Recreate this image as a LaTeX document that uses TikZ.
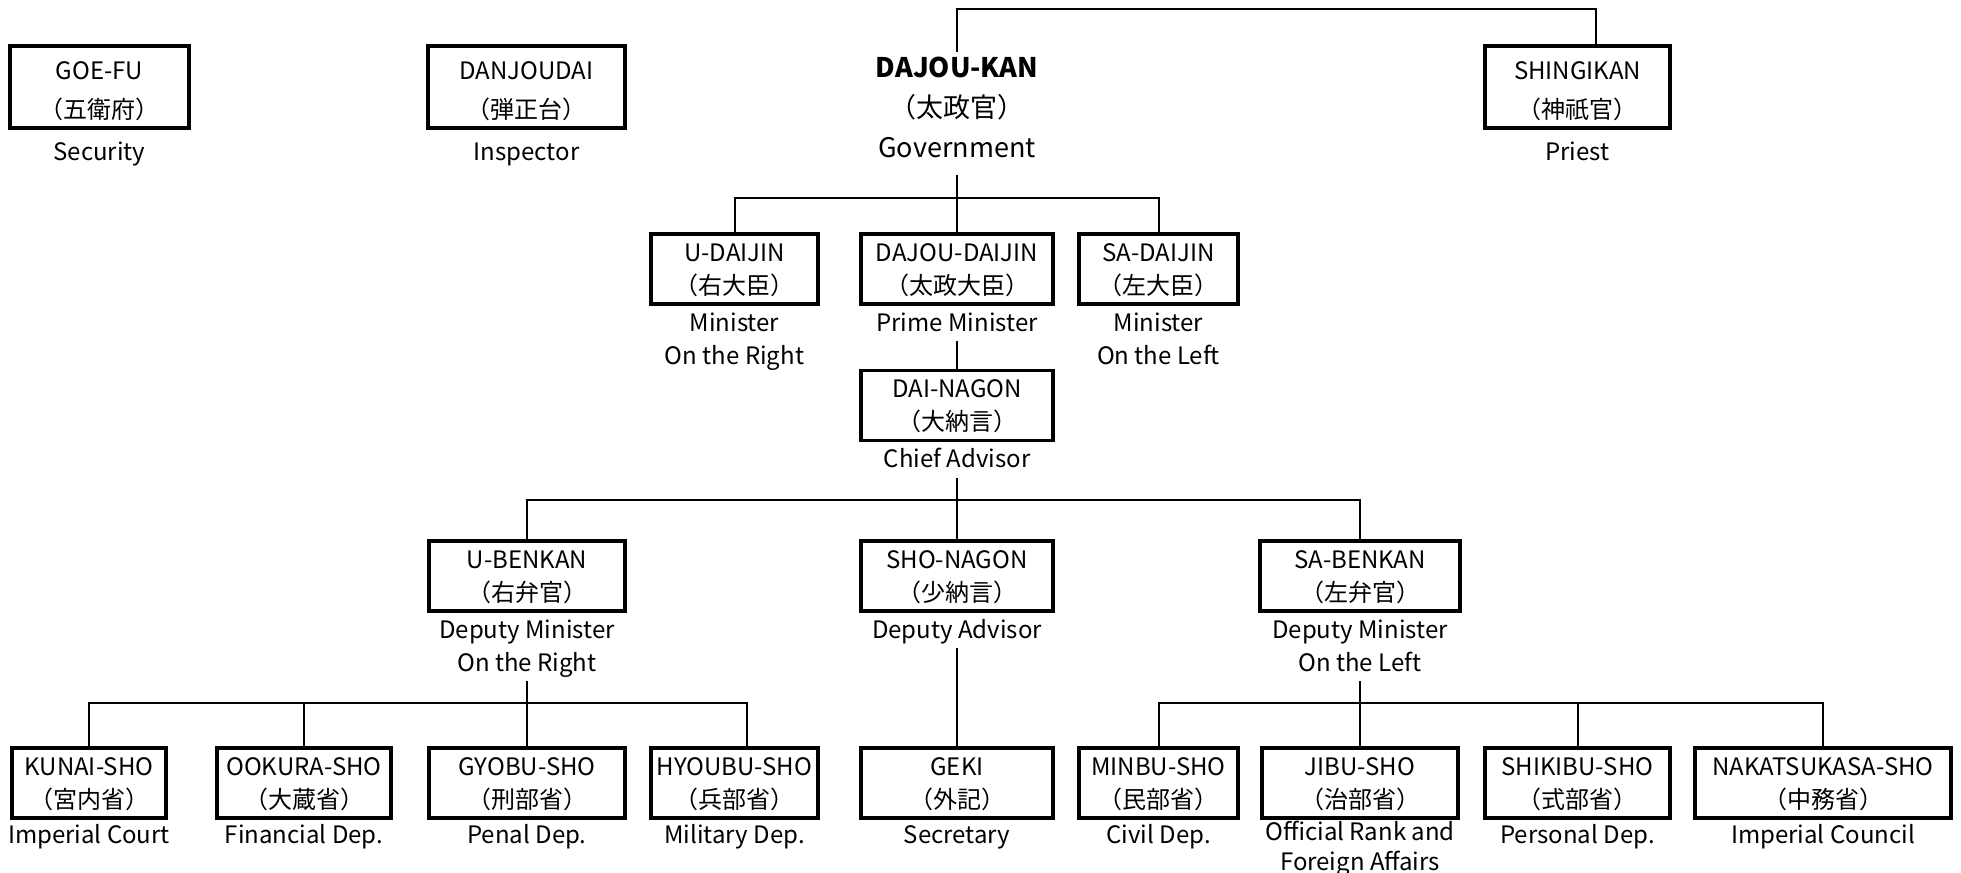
\documentclass[tikz,border=0pt]{standalone}
\usepackage{fontspec}
\setmainfont{Noto Sans CJK JP}
\newcommand{\fsN}{\fontsize{12}{16.5}\selectfont}
\newcommand{\fsT}{\fontsize{12}{19.5}\selectfont}
\newcommand{\fsG}{\fontsize{13.5}{20}\selectfont}
% two-line box text with fixed first-line height and last-line depth
\newcommand{\bx}[2]{\rule{0pt}{11.5pt}#1\\#2\rule[-3pt]{0pt}{3pt}}
\newcommand{\bxT}[2]{\rule{0pt}{13pt}#1\\#2\rule[-1.5pt]{0pt}{1.5pt}}
\begin{document}
\begin{tikzpicture}[x=0.5pt,y=-0.5pt,
 box/.style={draw, line width=1.6pt, inner sep=0pt, align=center, font=\fsN, minimum height=35pt},
 topbox/.style={box, font=\fsT, minimum height=41pt},
 lbl/.style={inner sep=0pt, align=center, font=\fsN, anchor=north},
 conn/.style={line width=1pt}]
\useasboundingbox (0,0) rectangle (1961,873);

% ---- top row
\node[topbox, minimum width=89.5pt] (goefu) at (99.5,87) {\bxT{GOE-FU}{（五衛府）}};
\node[lbl] (goefuL) at ([yshift=-3.5pt]goefu.south) {\strut Security\strut};
\node[topbox, minimum width=98.5pt] (danjoudai) at (526.5,87) {\bxT{DANJOUDAI}{（弾正台）}};
\node[lbl] (danjoudaiL) at ([yshift=-3.5pt]danjoudai.south) {\strut Inspector\strut};
\node[inner xsep=0pt, inner ysep=2.5pt, align=center, font=\fsG, anchor=north] (dajoukan) at (957,52)
  {\textbf{DAJOU-KAN}\\（太政官）\\Government\strut};
\node[topbox, minimum width=92.5pt] (shingikan) at (1577.5,87) {\bxT{SHINGIKAN}{（神祇官）}};
\node[lbl] (shingikanL) at ([yshift=-3.5pt]shingikan.south) {\strut Priest\strut};

% ---- ministers
\node[box, minimum width=83.5pt] (udaijin) at (734.5,269) {\bx{U-DAIJIN}{（右大臣）}};
\node[lbl] (udaijinL) at ([yshift=-1pt]udaijin.south) {\strut Minister\\On the Right\strut};
\node[box, minimum width=96pt] (dajoudaijin) at (957,269) {\bx{DAJOU-DAIJIN}{（太政大臣）}};
\node[lbl] (dajoudaijinL) at ([yshift=-1pt]dajoudaijin.south) {\strut Prime Minister\strut};
\node[box, minimum width=79.5pt] (sadaijin) at (1158.5,269) {\bx{SA-DAIJIN}{（左大臣）}};
\node[lbl] (sadaijinL) at ([yshift=-1pt]sadaijin.south) {\strut Minister\\On the Left\strut};

\node[box, minimum width=96pt] (dainagon) at (957,405.5) {\bx{DAI-NAGON}{（大納言）}};
\node[lbl] (dainagonL) at ([yshift=-1pt]dainagon.south) {\strut Chief Advisor\strut};

% ---- deputies
\node[box, minimum width=98pt] (ubenkan) at (527,576) {\bx{U-BENKAN}{（右弁官）}};
\node[lbl] (ubenkanL) at ([yshift=-1pt]ubenkan.south) {\strut Deputy Minister\\On the Right\strut};
\node[box, minimum width=96pt] (shonagon) at (957,576) {\bx{SHO-NAGON}{（少納言）}};
\node[lbl] (shonagonL) at ([yshift=-1pt]shonagon.south) {\strut Deputy Advisor\strut};
\node[box, minimum width=100pt] (sabenkan) at (1360,576) {\bx{SA-BENKAN}{（左弁官）}};
\node[lbl] (sabenkanL) at ([yshift=-1pt]sabenkan.south) {\strut Deputy Minister\\On the Left\strut};

% ---- ministries
\node[box, minimum width=77pt] (kunai) at (89,783) {\bx{KUNAI-SHO}{（宮内省）}};
\node[lbl] (kunaiL) at (kunai.south) {\strut Imperial Court\strut};
\node[box, minimum width=87pt] (ookura) at (304,783) {\bx{OOKURA-SHO}{（大蔵省）}};
\node[lbl] (ookuraL) at (ookura.south) {\strut Financial Dep.\strut};
\node[box, minimum width=98pt] (gyobu) at (527,783) {\bx{GYOBU-SHO}{（刑部省）}};
\node[lbl] (gyobuL) at (gyobu.south) {\strut Penal Dep.\strut};
\node[box, minimum width=83.5pt] (hyoubu) at (734.5,783) {\bx{HYOUBU-SHO}{（兵部省）}};
\node[lbl] (hyoubuL) at (hyoubu.south) {\strut Military Dep.\strut};
\node[box, minimum width=96pt] (geki) at (957,783) {\bx{GEKI}{（外記）}};
\node[lbl] (gekiL) at (geki.south) {\strut Secretary\strut};
\node[box, minimum width=79.5pt] (minbu) at (1158.5,783) {\bx{MINBU-SHO}{（民部省）}};
\node[lbl] (minbuL) at (minbu.south) {\strut Civil Dep.\strut};
\node[box, minimum width=98pt] (jibu) at (1360,783) {\bx{JIBU-SHO}{（治部省）}};
\node[lbl, font=\fontsize{12}{13.75}\selectfont] (jibuL) at ([yshift=-0.5pt]jibu.south) {\strut Official Rank and\\Foreign Affairs};
\node[box, minimum width=92.5pt] (shikibu) at (1577.5,783) {\bx{SHIKIBU-SHO}{（式部省）}};
\node[lbl] (shikibuL) at (shikibu.south) {\strut Personal Dep.\strut};
\node[box, minimum width=128pt] (nakatsukasa) at (1823,783) {\bx{NAKATSUKASA-SHO}{（中務省）}};
\node[lbl] (nakatsukasaL) at (nakatsukasa.south) {\strut Imperial Council\strut};

% ---- bus levels
\coordinate (busTop) at (0,9);
\coordinate (busA) at (0,198);
\coordinate (busB) at (0,500);
\coordinate (busC) at (0,703);
\coordinate (sgk) at ([xshift=9pt]shingikan.north);
\coordinate (hyb) at ([xshift=6pt]hyoubu.north);

% ---- connectors
\draw[conn] (dajoukan.north) |- (sgk |- busTop) -- (sgk);
\draw[conn] (dajoukan.south) -- (dajoukan.south |- busA) -- (dajoudaijin.north);
\draw[conn] (udaijin.north) |- (sadaijin.north |- busA) -- (sadaijin.north);
\draw[conn] (dajoudaijinL.south) -- (dainagon.north);
\draw[conn] (dainagonL.south) -- (dainagonL.south |- busB) -- (shonagon.north);
\draw[conn] (ubenkan.north) |- (sabenkan.north |- busB) -- (sabenkan.north);
\draw[conn] (ubenkanL.south) -- (ubenkanL.south |- busC) -- (gyobu.north);
\draw[conn] (kunai.north) |- (hyb |- busC) -- (hyb);
\draw[conn] (ookura.north) -- (ookura.north |- busC);
\draw[conn] (shonagonL.south) -- (geki.north);
\draw[conn] (sabenkanL.south) -- (sabenkanL.south |- busC) -- (jibu.north);
\draw[conn] (minbu.north) |- (nakatsukasa.north |- busC) -- (nakatsukasa.north);
\draw[conn] (shikibu.north) -- (shikibu.north |- busC);
\end{tikzpicture}
\end{document}
